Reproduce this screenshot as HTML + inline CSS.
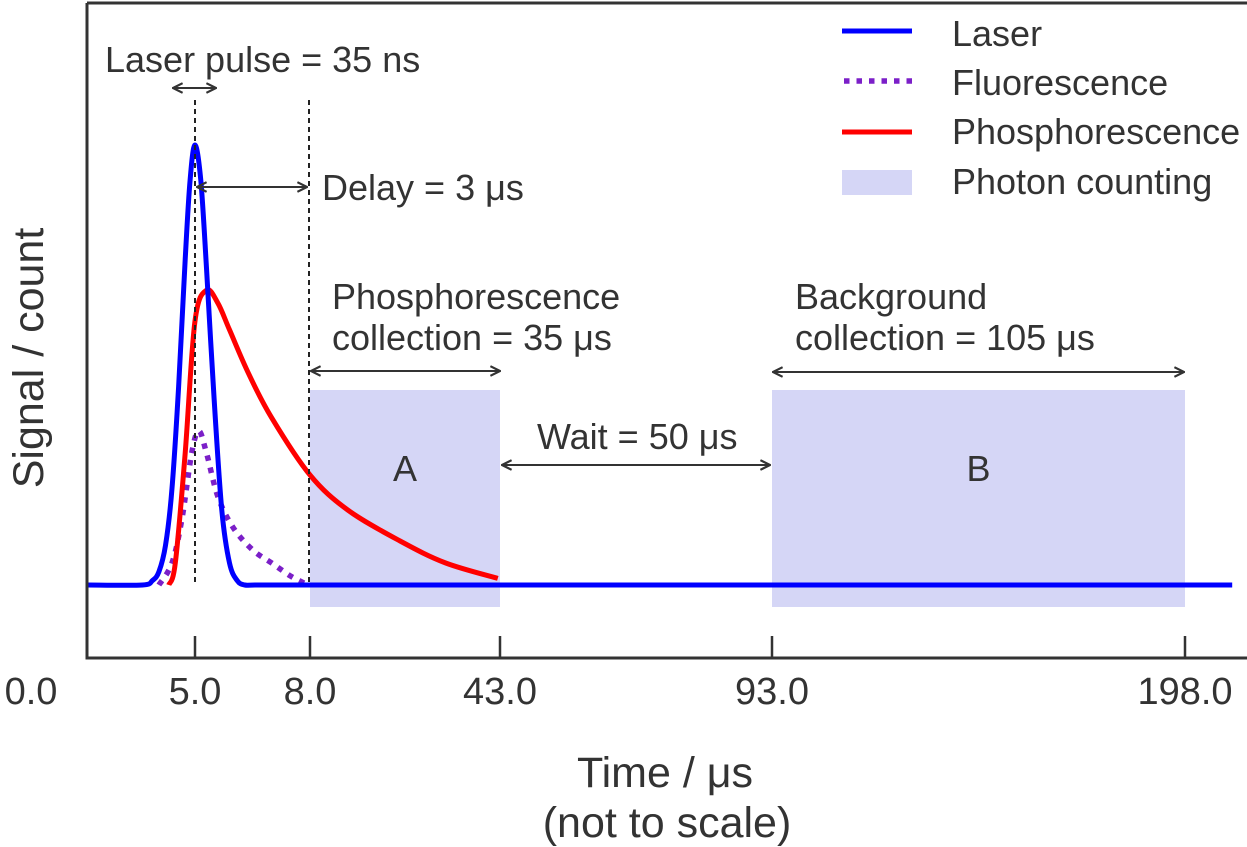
<!DOCTYPE html>
<html><head><meta charset="utf-8"><style>
body{margin:0;background:#fff}
svg{display:block;font-family:"Liberation Sans",sans-serif}
text{fill:#333}
</style></head><body>
<svg id="chart" width="1247" height="847" viewBox="0 0 1247 847">
<defs><marker id="ah" viewBox="0 0 10 10" refX="9" refY="5" markerWidth="12" markerHeight="12" orient="auto-start-reverse" markerUnits="userSpaceOnUse"><path d="M1,1 L9,5 L1,9" fill="none" stroke="#333" stroke-width="1.8"/></marker></defs>
<g id="regions"></g>
<g id="series"></g>
<g id="axes"></g>
<g id="annot"></g>
<g id="legend"></g>
</svg>
<script>
const tickValues=[0,5,8,43,93,198];
const tickLabels=["0.0","5.0","8.0","43.0","93.0","198.0"];
const laserT=[0,3.4,3.7,3.9,4.1,4.3,4.5,4.7,4.85,5.0,5.15,5.3,5.5,5.7,5.9,6.1,6.3,6.6,8,43,93,198,210];
const laserV=[0,0,0.01,0.03,0.09,0.22,0.45,0.74,0.92,1,0.92,0.72,0.42,0.17,0.05,0.01,0,0,0,0,0,0,0];
const fluorT=[3.9,4.3,4.6,4.9,5.1,5.3,5.6,6.0,6.5,7.0,7.5,7.95];
const fluorV=[0,0.05,0.15,0.3,0.35,0.3,0.2,0.13,0.08,0.05,0.02,0];
const phosT=[4.2,4.4,4.7,5.0,5.3,5.6,5.9,6.4,7.0,8,15,24.6,33,42.6];
const phosV=[0,0.05,0.3,0.6,0.67,0.64,0.58,0.48,0.38,0.25,0.17,0.1,0.05,0.015];
const windowStart=[8,93];
const windowEnd=[43,198];
const windowLabels=["A","B"];

const tickPx=[31,195,310,500,772,1185];
function xs(t){
  for(let i=0;i<tickValues.length-1;i++){
    if(t<=tickValues[i+1]||i===tickValues.length-2){
      const f=(t-tickValues[i])/(tickValues[i+1]-tickValues[i]);
      return tickPx[i]+f*(tickPx[i+1]-tickPx[i]);
    }
  }
}
const y0=585,yH=440;
function ys(v){return y0-v*yH;}
const NS="http://www.w3.org/2000/svg";
function mk(tag,attrs,parent,txt){const e=document.createElementNS(NS,tag);for(const k in attrs)e.setAttribute(k,attrs[k]);if(txt!==undefined)e.textContent=txt;document.getElementById(parent).appendChild(e);return e;}
function line(T,V,x0){
  const P=T.map((t,i)=>[Math.min(xs(t),1260),ys(V[i])]);
  if(x0!==undefined)P[0][0]=x0;
  let d="M"+P[0][0].toFixed(1)+","+P[0][1].toFixed(1);
  for(let i=0;i<P.length-1;i++){
    const p0=P[Math.max(0,i-1)],p1=P[i],p2=P[i+1],p3=P[Math.min(P.length-1,i+2)];
    const k=1/6;
    let c1=[p1[0]+(p2[0]-p0[0])*k,p1[1]+(p2[1]-p0[1])*k];
    let c2=[p2[0]-(p3[0]-p1[0])*k,p2[1]-(p3[1]-p1[1])*k];
    c1[0]=Math.min(Math.max(c1[0],p1[0]),p2[0]);c2[0]=Math.min(Math.max(c2[0],p1[0]),p2[0]);
    d+=" C"+c1[0].toFixed(1)+","+c1[1].toFixed(1)+" "+c2[0].toFixed(1)+","+c2[1].toFixed(1)+" "+p2[0].toFixed(1)+","+p2[1].toFixed(1);
  }
  return d;
}

windowStart.forEach((s,i)=>{
  const r=mk("rect",{x:xs(s),y:390,width:xs(windowEnd[i])-xs(s),height:217,fill:"#d5d6f6"},"regions");
  
  
  const t=mk("text",{x:(xs(s)+xs(windowEnd[i]))/2,y:481,"font-size":36,"text-anchor":"middle"},"regions",windowLabels[i]);
  
  
});
let p=mk("path",{d:line(fluorT,fluorV),fill:"none",stroke:"#7b1fc8","stroke-width":5.5,"stroke-dasharray":"5.5 7"},"series");


p=mk("path",{d:line(phosT,phosV),fill:"none",stroke:"#ff0000","stroke-width":5,"stroke-linejoin":"round"},"series");


p=mk("path",{d:line(laserT,laserV,88),fill:"none",stroke:"#0000ff","stroke-width":5,"stroke-linejoin":"round"},"series");


p=mk("path",{d:"M87,3 L1247,3 M87,3 L87,658 L1247,658",fill:"none",stroke:"#333","stroke-width":3},"axes");


tickValues.forEach((v,i)=>{
  if(v>0){const tk=mk("line",{x1:xs(v),x2:xs(v),y1:636,y2:658,stroke:"#333","stroke-width":2.5},"axes");
  
  }
  const tl=mk("text",{x:xs(v),y:704,"font-size":38,"text-anchor":"middle"},"axes",tickLabels[i]);
  
  
});
</script>
<script>
(function(){
const a=document.getElementById("annot");
a.innerHTML=`
<text x="665" y="787" font-size="43" text-anchor="middle">Time / μs</text>
<text x="667" y="837" font-size="43" text-anchor="middle">(not to scale)</text>
<text transform="translate(43,358) rotate(-90)" font-size="43" text-anchor="middle">Signal / count</text>
<line x1="195" y1="100" x2="195" y2="585" stroke="#222" stroke-width="2" stroke-dasharray="5 4"/>
<line x1="309" y1="100" x2="309" y2="585" stroke="#222" stroke-width="2" stroke-dasharray="5 4"/>
<text x="105" y="72" font-size="36">Laser pulse = 35 ns</text>
<line x1="173" y1="88" x2="216" y2="88" stroke="#333" stroke-width="2" marker-start="url(#ah)" marker-end="url(#ah)"/>
<line x1="197" y1="187" x2="307" y2="187" stroke="#333" stroke-width="2" marker-start="url(#ah)" marker-end="url(#ah)"/>
<text x="322" y="200" font-size="36">Delay = 3 μs</text>
<text x="332" y="309" font-size="36">Phosphorescence</text>
<text x="332" y="350" font-size="36">collection = 35 μs</text>
<line x1="311" y1="371" x2="500" y2="371" stroke="#333" stroke-width="2" marker-start="url(#ah)" marker-end="url(#ah)"/>
<text x="795" y="309" font-size="36">Background</text>
<text x="795" y="350" font-size="36">collection = 105 μs</text>
<line x1="773" y1="372" x2="1184" y2="372" stroke="#333" stroke-width="2" marker-start="url(#ah)" marker-end="url(#ah)"/>
<text x="537" y="449" font-size="36">Wait = 50 μs</text>
<line x1="502" y1="465" x2="770" y2="465" stroke="#333" stroke-width="2" marker-start="url(#ah)" marker-end="url(#ah)"/>`;
const l=document.getElementById("legend");
l.innerHTML=`
<g><line x1="842" y1="31" x2="912" y2="31" stroke="#0000ff" stroke-width="5"/><text x="952" y="46" font-size="36">Laser</text></g>
<g><line x1="844" y1="81" x2="912" y2="81" stroke="#7b1fc8" stroke-width="5.5" stroke-dasharray="5.5 7"/><text x="952" y="95" font-size="36">Fluorescence</text></g>
<g><line x1="842" y1="132" x2="912" y2="132" stroke="#ff0000" stroke-width="5"/><text x="952" y="144" font-size="36">Phosphorescence</text></g>
<g><rect x="842" y="170" width="70" height="25" fill="#d5d6f6"/><text x="952" y="194" font-size="36">Photon counting</text></g>`;
})();
</script>
</body></html>
